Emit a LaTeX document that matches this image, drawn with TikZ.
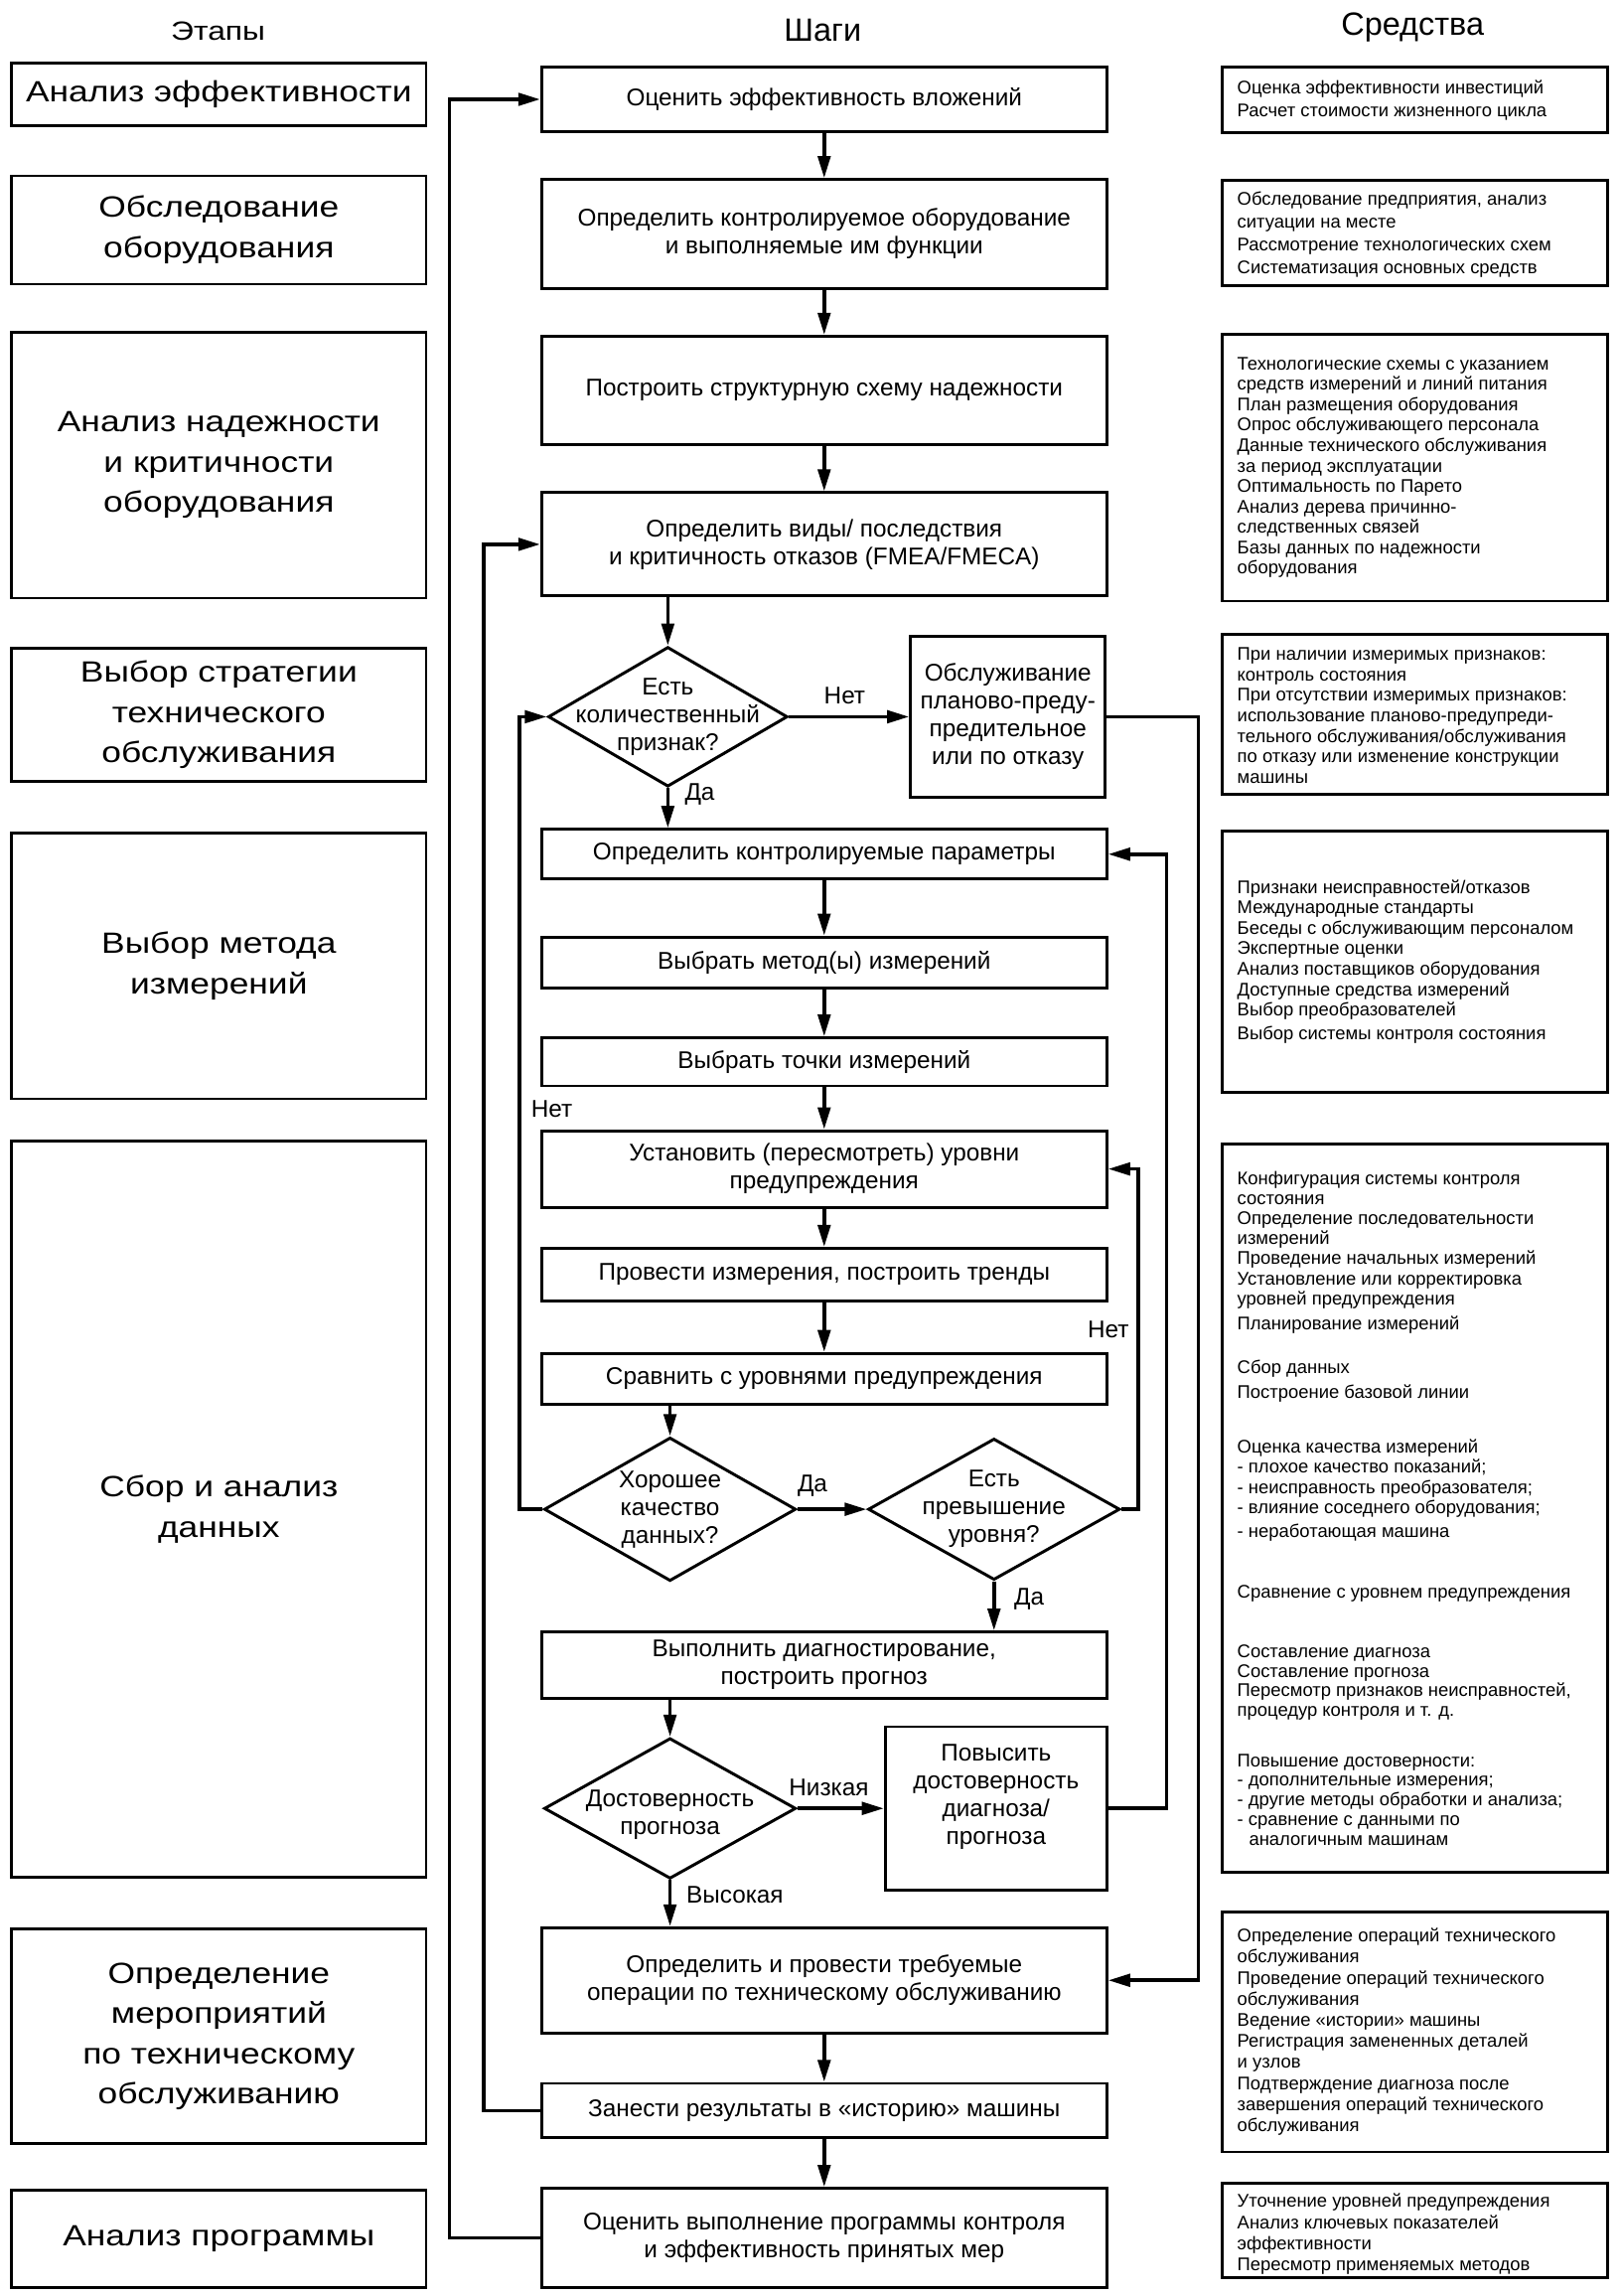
\documentclass[tikz,border=0pt]{standalone}
\usepackage{fontspec}
\setmainfont{Liberation Sans}
\newfontfamily\widefont[FakeStretch=1.2]{Liberation Sans}
\usetikzlibrary{arrows.meta,shapes.geometric}
\begin{document}
\begin{tikzpicture}[x=1pt,y=-1pt,
  box/.style={draw,line width=2pt,rectangle,inner sep=0pt,align=center,font=\fontsize{16.5}{19}\selectfont},
  stepbox/.style={box,minimum width=386pt},
  stagebox/.style={draw,line width=1.8pt,rectangle,inner sep=0pt,minimum width=283pt,align=center,font=\widefont\fontsize{20}{27.5}\selectfont},
  toolbox/.style={draw,line width=2pt,rectangle,inner sep=0pt,minimum width=263pt},
  dia/.style={draw,line width=2pt,diamond,inner sep=0pt},
  lbl/.style={font=\fontsize{16.5}{19}\selectfont,inner sep=0pt},
  rt/.style={font=\fontsize{12.5}{14}\selectfont,inner sep=0pt,anchor=base west},
  arr/.style={line width=2.4pt,-{Triangle[length=15pt,width=8.5pt]}}
]
\useasboundingbox[fill=white] (0,0) rectangle (1107,1568);

% headers
\node[font=\widefont\fontsize{18}{20}\selectfont] (h1) at (149,21) {Этапы};
\node[font=\fontsize{22}{24}\selectfont] (h2) at (562,21) {Шаги};
\node[font=\fontsize{22}{24}\selectfont] (h3) at (965,19) {Средства};

% stages
\node[stagebox,minimum height=42.7pt] (l1) at (149.5,64.35) {Анализ эффективности};
\node[stagebox,minimum height=74pt] (l2) at (149.5,157) {Обследование\\оборудования};
\node[stagebox,minimum height=181.5pt] (l3) at (149.5,317.75) {Анализ надежности\\и критичности\\оборудования};
\node[stagebox,minimum height=90.7pt] (l4) at (149.5,488.15) {Выбор стратегии\\технического\\обслуживания};
\node[stagebox,minimum height=181.5pt] (l5) at (149.5,659.65) {Выбор метода\\измерений};
\node[stagebox,minimum height=503pt] (l6) at (149.5,1030.7) {Сбор и анализ\\данных};
\node[stagebox,minimum height=146.4pt] (l7) at (149.5,1390.7) {Определение\\мероприятий\\по техническому\\обслуживанию};
\node[stagebox,minimum height=66.4pt] (l8) at (149.5,1528.8) {Анализ программы};

% steps
\node[stepbox,minimum height=44.3pt] (s1) at (563,67.85) {Оценить эффективность вложений};
\node[stepbox,minimum height=74.4pt] (s2) at (563,159.8) {Определить контролируемое оборудование\\и выполняемые им функции};
\node[stepbox,minimum height=74.3pt] (s3) at (563,266.75) {Построить структурную схему надежности};
\node[stepbox,minimum height=70.5pt] (s4) at (563,371.75) {Определить виды/ последствия\\и критичность отказов (FMEA/FMECA)};
\node[stepbox,minimum height=33.9pt] (s5) at (563,583.35) {Определить контролируемые параметры};
\node[stepbox,minimum height=35pt] (s6) at (563,657.4) {Выбрать метод(ы) измерений};
\node[stepbox,minimum height=32.8pt] (s7) at (563,725.2) {Выбрать точки измерений};
\node[stepbox,minimum height=52.2pt] (s8) at (563,798.3) {Установить (пересмотреть) уровни\\предупреждения};
\node[stepbox,minimum height=35.8pt] (s9) at (563,870.4) {Провести измерения, построить тренды};
\node[stepbox,minimum height=34.5pt] (s10) at (563,941.55) {Сравнить с уровнями предупреждения};
\node[stepbox,minimum height=45.2pt] (s11) at (563,1137.1) {Выполнить диагностирование,\\построить прогноз};
\node[stepbox,minimum height=71.8pt] (s12) at (563,1352.4) {Определить и провести требуемые\\операции по техническому обслуживанию};
\node[stepbox,minimum height=37.2pt] (s13) at (563,1441.4) {Занести результаты в «историю» машины};
\node[stepbox,minimum height=67.7pt] (s14) at (563,1528.35) {Оценить выполнение программы контроля\\и эффективность принятых мер};

% decisions
\node[dia,minimum width=163.5pt,minimum height=95.4pt] (d1) at (456.2,489.5) {};
\node[lbl,align=center] (d1t) at (456.2,489.5) {Есть\\количественный\\признак?};
\node[dia,minimum width=172pt,minimum height=98pt] (d2) at (457.7,1030.7) {};
\node[lbl,align=center] (d2t) at (457.7,1031) {Хорошее\\качество\\данных?};
\node[dia,minimum width=172pt,minimum height=96.5pt] (d3) at (679,1030.7) {};
\node[lbl,align=center] (d3t) at (679,1030.5) {Есть\\превышение\\уровня?};
\node[dia,minimum width=172pt,minimum height=96pt] (d4) at (457.7,1235) {};
\node[lbl,align=center] (d4t) at (457.7,1239.5) {Достоверность\\прогноза};

% side boxes
\node[box,minimum width=133pt,minimum height=110pt] (bobs) at (688.5,489.5) {Обслуживание\\планово-преду-\\предительное\\или по отказу};
\node[box,minimum width=151.3pt,minimum height=111.6pt] (bpov) at (680.4,1235) {};
\node[lbl,align=center] (bpovt) at (680.4,1227) {Повысить\\достоверность\\диагноза/\\прогноза};

% tool boxes
\node[toolbox,minimum height=45pt] (r1) at (966.5,68.1) {};
\node[toolbox,minimum height=71.8pt] (r2) at (966.5,159.3) {};
\node[toolbox,minimum height=182.5pt] (r3) at (966.5,319.25) {};
\node[toolbox,minimum height=109.6pt] (r4) at (966.5,487.8) {};
\node[toolbox,minimum height=178.6pt] (r5) at (966.5,656.8) {};
\node[toolbox,minimum height=497.4pt] (r6) at (966.5,1029.9) {};
\node[toolbox,minimum height=163.9pt] (r7) at (966.5,1387.65) {};
\node[toolbox,minimum height=64.4pt] (r8) at (966.5,1523.3) {};

\foreach \t [count=\i from 0] in {{Оценка эффективности инвестиций},{Расчет стоимости жизненного цикла}}
  \node[rt] (r1l\i) at (845,{64.2+\i*15.8}) {\t};
\foreach \t [count=\i from 0] in {{Обследование предприятия, анализ},{ситуации на месте},{Рассмотрение технологических схем},{Систематизация основных средств}}
  \node[rt] (r2l\i) at (845,{140.3+\i*15.6}) {\t};
\foreach \t [count=\i from 0] in {{Технологические схемы с указанием},{средств измерений и линий питания},{План размещения оборудования},{Опрос обслуживающего персонала},{Данные технического обслуживания},{за период эксплуатации},{Оптимальность по Парето},{Анализ дерева причинно-},{следственных связей},{Базы данных по надежности},{оборудования}}
  \node[rt] (r3l\i) at (845,{252.6+\i*13.95}) {\t};
\foreach \t [count=\i from 0] in {{При наличии измеримых признаков:},{контроль состояния},{При отсутствии измеримых признаков:},{использование планово-предупреди-},{тельного обслуживания/обслуживания},{по отказу или изменение конструкции},{машины}}
  \node[rt] (r4l\i) at (845,{451+\i*14}) {\t};
\foreach \t [count=\i from 0] in {{Признаки неисправностей/отказов},{Международные стандарты},{Беседы с обслуживающим персоналом},{Экспертные оценки},{Анализ поставщиков оборудования},{Доступные средства измерений},{Выбор преобразователей}}
  \node[rt] (r5l\i) at (845,{610+\i*14}) {\t};
\node[rt] (r5l7) at (845,710) {Выбор системы контроля состояния};
\foreach \t [count=\i from 0] in {{Конфигурация системы контроля},{состояния},{Определение последовательности},{измерений},{Проведение начальных измерений},{Установление или корректировка},{уровней предупреждения}}
  \node[rt] (r6a\i) at (845,{808.9+\i*13.7}) {\t};
\node[rt] (r6b) at (845,908.4) {Планирование измерений};
\node[rt] (r6c0) at (845,937.8) {Сбор данных};
\node[rt] (r6c1) at (845,954.7) {Построение базовой линии};
\foreach \t [count=\i from 0] in {{Оценка качества измерений},{- плохое качество показаний;},{- неисправность преобразователя;},{- влияние соседнего оборудования;}}
  \node[rt] (r6d\i) at (845,{992+\i*14}) {\t};
\node[rt] (r6d4) at (845,1049.7) {- неработающая машина};
\node[rt] (r6e) at (845,1091.5) {Сравнение с уровнем предупреждения};
\foreach \t [count=\i from 0] in {{Составление диагноза},{Составление прогноза},{Пересмотр признаков неисправностей,},{процедур контроля и т. д.}}
  \node[rt] (r6f\i) at (845,{1132+\i*13.3}) {\t};
\foreach \t [count=\i from 0] in {{Повышение достоверности:},{- дополнительные измерения;},{- другие методы обработки и анализа;},{- сравнение с данными по}}
  \node[rt] (r6g\i) at (845,{1206.4+\i*13.5}) {\t};
\node[rt] (r6g4) at (853,1260.4) {аналогичным машинам};
\foreach \t [count=\i from 0] in {{Определение операций технического},{обслуживания},{Проведение операций технического},{обслуживания},{Ведение «истории» машины},{Регистрация замененных деталей},{и узлов},{Подтверждение диагноза после},{завершения операций технического},{обслуживания}}
  \node[rt] (r7l\i) at (845,{1326.2+\i*14.4}) {\t};
\foreach \t [count=\i from 0] in {{Уточнение уровней предупреждения},{Анализ ключевых показателей},{эффективности},{Пересмотр применяемых методов}}
  \node[rt] (r8l\i) at (845,{1507.5+\i*14.4}) {\t};

% branch labels
\node[lbl] (tnet1) at (577,474.8) {Нет};
\node[lbl] (tda1) at (478,542.6) {Да};
\node[lbl] (tnet2) at (377,757.5) {Нет};
\node[lbl] (tda2) at (555,1014.8) {Да};
\node[lbl] (tnet3) at (757,907.9) {Нет};
\node[lbl] (tda3) at (703,1091.8) {Да};
\node[lbl] (tniz) at (566.2,1220.8) {Низкая};
\node[lbl] (tvys) at (502,1293.9) {Высокая};

% routing columns
\coordinate (lo) at (307,0);
\coordinate (li) at (330.5,0);
\coordinate (lnx) at (355,0);
\coordinate (rrx) at (818.5,0);
\coordinate (rpx) at (797,0);
\coordinate (rnx) at (777.5,0);

% connectors
\draw[arr] (s1.south) -- (s2.north);
\draw[arr] (s2.south) -- (s3.north);
\draw[arr] (s3.south) -- (s4.north);
\draw[arr] (d1.north |- s4.south) -- (d1.north);
\draw[arr] (d1.east) -- (bobs.west);
\draw[arr] (d1.south) -- (d1.south |- s5.north);
\draw[arr] (s5.south) -- (s6.north);
\draw[arr] (s6.south) -- (s7.north);
\draw[arr] (s7.south) -- (s8.north);
\draw[arr] (s8.south) -- (s9.north);
\draw[arr] (s9.south) -- (s10.north);
\draw[arr] (d2.north |- s10.south) -- (d2.north);
\draw[arr] (d2.east) -- (d3.west);
\draw[arr] (d3.south) -- (d3.south |- s11.north);
\draw[arr] (d4.north |- s11.south) -- (d4.north);
\draw[arr] (d4.east) -- (bpov.west);
\draw[arr] (d4.south) -- (d4.south |- s12.north);
\draw[arr] (s12.south) -- (s13.north);
\draw[arr] (s13.south) -- (s14.north);
\draw[arr] (s14.west) -- (s14.west -| lo) |- (s1.west);
\draw[arr] (s13.west) -- (s13.west -| li) |- (s4.west);
\draw[arr] (d2.west) -- (d2.west -| lnx) |- (d1.west);
\draw[arr] (bobs.east) -- (bobs.east -| rrx) |- (s12.east);
\draw[arr] (bpov.east) -- (bpov.east -| rpx) |- (s5.east);
\draw[arr] (d3.east) -- (d3.east -| rnx) |- (s8.east);
\end{tikzpicture}
\end{document}
